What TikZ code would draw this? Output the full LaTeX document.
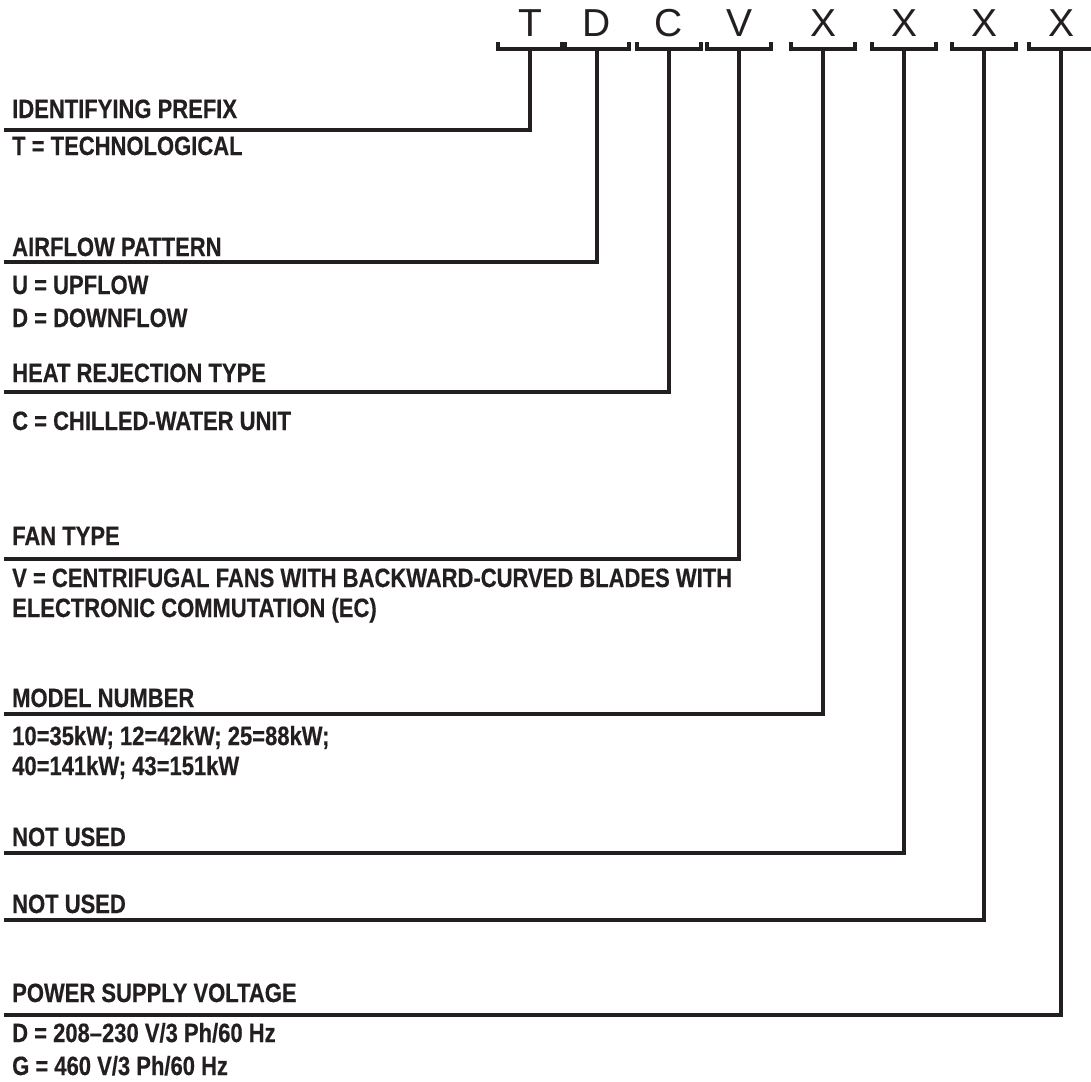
\documentclass[tikz,border=0pt]{standalone}
\usepackage{xcolor}
\usepackage{tikz}
\usepackage{fontspec}
\newfontfamily\codefont{Liberation Sans}
\newfontfamily\labelfont[FakeStretch=0.83,BoldFeatures={FakeBold=0.4}]{Liberation Sans}
\definecolor{codeink}{HTML}{231f20}

\begin{document}
\begin{tikzpicture}[x=1pt,y=-1pt,
  codeletter/.style={font=\codefont\fontsize{39}{39}\selectfont,text=codeink,anchor=base,inner sep=0pt},
  codelabel/.style={font=\labelfont\bfseries\fontsize{26.5}{26.5}\selectfont,text=codeink,anchor=base west,inner sep=0pt},
  codeline/.style={draw=codeink,line width=3.5pt}]
  \useasboundingbox (0,0) rectangle (1091,1081);
  % letters of the model code, with their brackets
  \foreach \nm/\ch/\cx in {t/T/530,d/D/597,c/C/669,v/V/739,xa/X/823,xb/X/904,xc/X/984,xd/X/1061} {
    \node[codeletter] (\nm) at (\cx,37) {\ch};
    \coordinate (\nm s) at (\cx,49);
    \draw[codeline] (\cx-32,42) -- (\cx-32,49) -- (\cx+32,49) -- (\cx+32,42);
  }
  % identifying prefix
  \node[codelabel] (prefix) at (12,118) {IDENTIFYING PREFIX};
  \node[codelabel] (prefixt) at (12,155) {T = TECHNOLOGICAL};
  \coordinate (prefixl) at (4,130);
  \draw[codeline] (ts) |- (prefixl);
  % airflow pattern
  \node[codelabel] (airflow) at (12,256) {AIRFLOW PATTERN};
  \node[codelabel] (airflowu) at (12,294) {U = UPFLOW};
  \node[codelabel] (airflowd) at (12,327) {D = DOWNFLOW};
  \coordinate (airflowl) at (4,262);
  \draw[codeline] (ds) |- (airflowl);
  % heat rejection type
  \node[codelabel] (heat) at (12,382) {HEAT REJECTION TYPE};
  \node[codelabel] (heatc) at (12,430) {C = CHILLED-WATER UNIT};
  \coordinate (heatl) at (4,392);
  \draw[codeline] (cs) |- (heatl);
  % fan type
  \node[codelabel] (fan) at (12,545) {FAN TYPE};
  \node[codelabel] (fanv) at (12,587) {V = CENTRIFUGAL FANS WITH BACKWARD-CURVED BLADES WITH};
  \node[codelabel] (fanec) at (12,617) {ELECTRONIC COMMUTATION (EC)};
  \coordinate (fanl) at (4,559);
  \draw[codeline] (vs) |- (fanl);
  % model number
  \node[codelabel] (model) at (12,707) {MODEL NUMBER};
  \node[codelabel] (modela) at (12,745) {10=35kW; 12=42kW; 25=88kW;};
  \node[codelabel] (modelb) at (12,775) {40=141kW; 43=151kW};
  \coordinate (modell) at (4,714);
  \draw[codeline] (xas) |- (modell);
  % not used
  \node[codelabel] (unuseda) at (12,846) {NOT USED};
  \coordinate (unusedal) at (4,853);
  \draw[codeline] (xbs) |- (unusedal);
  \node[codelabel] (unusedb) at (12,913) {NOT USED};
  \coordinate (unusedbl) at (4,920);
  \draw[codeline] (xcs) |- (unusedbl);
  % power supply voltage
  \node[codelabel] (power) at (12,1002) {POWER SUPPLY VOLTAGE};
  \node[codelabel] (powerd) at (12,1042) {D = 208–230 V/3 Ph/60 Hz};
  \node[codelabel] (powerg) at (12,1075) {G = 460 V/3 Ph/60 Hz};
  \coordinate (powerl) at (4,1015);
  \draw[codeline] (xds) |- (powerl);
\end{tikzpicture}
\end{document}
